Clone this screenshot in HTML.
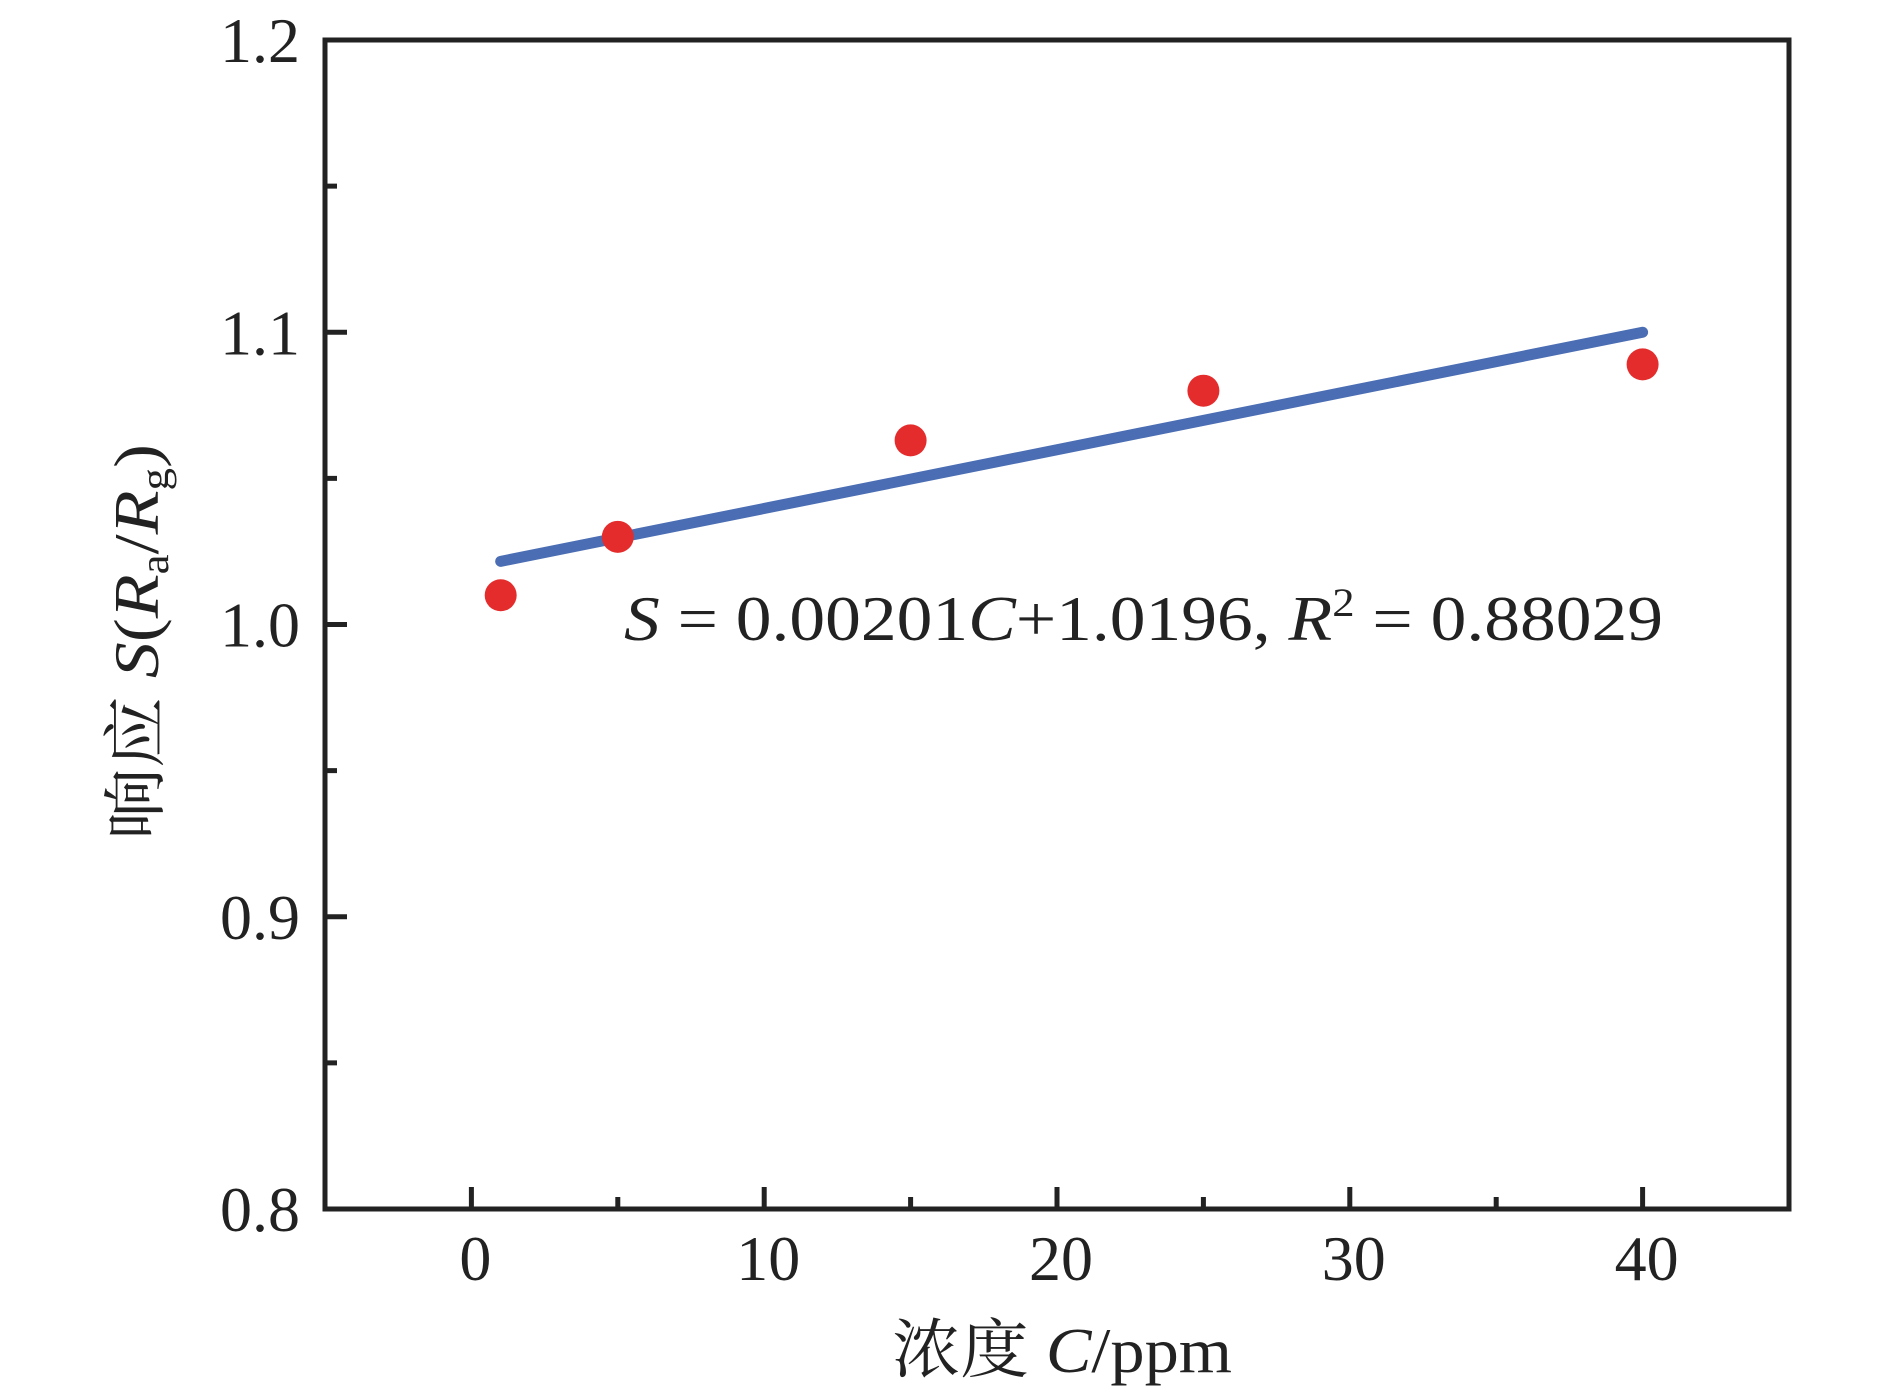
<!DOCTYPE html>
<html><head><meta charset="utf-8"><style>
body{margin:0;background:#fff}
svg text{font-family:"Liberation Serif","Noto Serif CJK SC",serif;fill:#222}
</style></head><body>
<svg width="1890" height="1394" viewBox="0 0 1890 1394">
<g id="g"></g>
<text x="624" y="640" font-size="64" textLength="1039" lengthAdjust="spacingAndGlyphs"><tspan font-style="italic">S</tspan> = 0.00201<tspan font-style="italic">C</tspan>+1.0196, <tspan font-style="italic">R</tspan><tspan font-size="40" dy="-24">2</tspan><tspan dy="24"> = 0.88029</tspan></text>
<text x="1062" y="1372" font-size="64" text-anchor="middle" textLength="340" lengthAdjust="spacingAndGlyphs">浓度 <tspan font-style="italic">C</tspan>/ppm</text>
<text transform="translate(158,642) rotate(-90)" font-size="64" text-anchor="middle" textLength="396" lengthAdjust="spacingAndGlyphs">响应 <tspan font-style="italic">S</tspan>(<tspan font-style="italic">R</tspan><tspan font-size="40" dy="10">a</tspan><tspan dy="-10">/</tspan><tspan font-style="italic">R</tspan><tspan font-size="40" dy="10">g</tspan><tspan dy="-10">)</tspan></text>
</svg>
<script>
const xTicks=[0,10,20,30,40];
const xMinor=[5,15,25,35];
const yTicks=[0.8,0.9,1.0,1.1,1.2];
const yTickLabels=["0.8","0.9","1.0","1.1","1.2"];
const yMinor=[0.85,0.95,1.05,1.15];
const concentrations=[1,5,15,25,40];
const responses=[1.01,1.03,1.063,1.08,1.089];
const fitSlope=0.00201, fitIntercept=1.0196;
const fitRange=[1,40];
const L=325,R=1789,T=40,B=1209;
const X=v=>L+(v+5)/50*(R-L);
const Y=v=>B-(v-0.8)/0.4*(B-T);
const NS="http://www.w3.org/2000/svg";
const g=document.getElementById('g');
function mk(t,a,txt){const e=document.createElementNS(NS,t);for(const k in a)e.setAttribute(k,a[k]);if(txt!==undefined)e.textContent=txt;g.appendChild(e);return e;}
let e=mk('rect',{x:L,y:T,width:R-L,height:B-T,fill:'none',stroke:'#222','stroke-width':5});


xTicks.forEach(v=>{
 e=mk('line',{x1:X(v),x2:X(v),y1:B,y2:B-22,stroke:'#222','stroke-width':5});
 
 
 e=mk('text',{x:X(v)+4,y:1280,'font-size':64,'text-anchor':'middle'},String(v));
 
 
});
xMinor.forEach(v=>{
 e=mk('line',{x1:X(v),x2:X(v),y1:B,y2:B-12,stroke:'#222','stroke-width':5});
 
 
});
yTicks.forEach((v,i)=>{
 e=mk('line',{x1:L,x2:L+22,y1:Y(v),y2:Y(v),stroke:'#222','stroke-width':5});
 
 
 e=mk('text',{x:300,y:Y(v)+22,'font-size':64,'text-anchor':'end'},yTickLabels[i]);
 
 
});
yMinor.forEach(v=>{
 e=mk('line',{x1:L,x2:L+12,y1:Y(v),y2:Y(v),stroke:'#222','stroke-width':5});
 
 
});
e=mk('line',{x1:X(fitRange[0]),y1:Y(fitSlope*fitRange[0]+fitIntercept),x2:X(fitRange[1]),y2:Y(fitSlope*fitRange[1]+fitIntercept),stroke:'#4a6db3','stroke-width':11,'stroke-linecap':'round'});


concentrations.forEach((c,i)=>{
 e=mk('circle',{cx:X(c),cy:Y(responses[i]),r:16,fill:'#e52c2c'});
 
 
});
</script>
</body></html>
